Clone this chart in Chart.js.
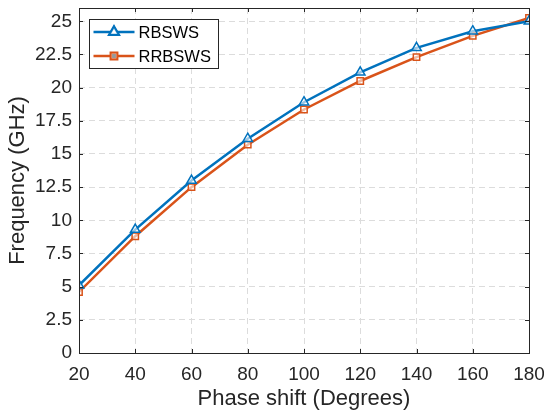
<!DOCTYPE html>
<html>
<head>
<meta charset="utf-8">
<script src="https://cdn.jsdelivr.net/npm/chart.js@4.4.1/dist/chart.umd.min.js"></script>
<style>
  html, body { margin: 0; padding: 0; background: #fff; }
  #wrap { width: 544px; height: 412px; }
</style>
</head>
<body>
<div id="wrap"><canvas id="myChart" width="544" height="412"></canvas></div>
<script>
/* data */
var phaseShift = [20, 40, 60, 80, 100, 120, 140, 160, 180];
var rbsws = [5.1, 9.3, 13.0, 16.15, 18.9, 21.15, 23.0, 24.25, 25.0];
var rrbsws = [4.6, 8.8, 12.5, 15.7, 18.35, 20.5, 22.3, 23.9, 25.25];
var yTicks = [0, 2.5, 5, 7.5, 10, 12.5, 15, 17.5, 20, 22.5, 25];
var xTicks = [20, 40, 60, 80, 100, 120, 140, 160, 180];

const blue = "#0072BD";
const orange = "#D95319";
const axisColor = "#262626";
const fontFam = "'Liberation Sans', Arial, sans-serif";

function toPoints(xs, ys) {
  var pts = [];
  for (var i = 0; i < xs.length; i++) {
    pts.push({ x: xs[i], y: ys[i] });
  }
  return pts;
}

// box around the axes with inward ticks, plus the boxed legend
const boxPlugin = {
  id: "boxPlugin",
  afterDatasetsDraw: function (chart) {
    var ctx = chart.ctx;
    var a = chart.chartArea;
    var xs = chart.scales.x, ys = chart.scales.y;
    ctx.save();
    ctx.strokeStyle = axisColor;
    ctx.lineWidth = 1;
    ctx.strokeRect(Math.round(a.left) + 0.5, Math.round(a.top) + 0.5,
      Math.round(a.right - a.left), Math.round(a.bottom - a.top));
    ctx.beginPath();
    xTicks.forEach(function (v) {
      var px = Math.round(xs.getPixelForValue(v)) + 0.5;
      ctx.moveTo(px, a.bottom); ctx.lineTo(px, a.bottom - 4);
      ctx.moveTo(px, a.top); ctx.lineTo(px, a.top + 4);
    });
    yTicks.forEach(function (v) {
      var py = Math.round(ys.getPixelForValue(v)) + 0.5;
      ctx.moveTo(a.left, py); ctx.lineTo(a.left + 4, py);
      ctx.moveTo(a.right, py); ctx.lineTo(a.right - 4, py);
    });
    ctx.stroke();

    // legend
    var lx = 89.5, ly = 19.5, lw = 129, lh = 49;
    ctx.fillStyle = "#fff";
    ctx.fillRect(lx, ly, lw, lh);
    ctx.strokeStyle = axisColor;
    ctx.strokeRect(lx, ly, lw, lh);
    ctx.font = "16.5px " + fontFam;
    ctx.textBaseline = "middle";
    chart.data.datasets.forEach(function (ds, i) {
      var cy = ly + 12.5 + i * 24;
      ctx.strokeStyle = ds.borderColor;
      ctx.lineWidth = 2.5;
      ctx.beginPath();
      ctx.moveTo(lx + 4, cy); ctx.lineTo(lx + 45, cy);
      ctx.stroke();
      Chart.helpers.drawPoint(ctx, {
        pointStyle: ds.pointStyle, radius: ds.pointRadius, borderWidth: 1.5
      }, lx + 24.5, cy);
      ctx.lineWidth = 1.5;
      ctx.fillStyle = "rgba(255,255,255,0.6)";
      ctx.fill();
      ctx.stroke();
      ctx.fillStyle = "#000";
      ctx.fillText(ds.label, lx + 49, cy + 1);
    });
    ctx.restore();
  }
};

new Chart("myChart", {
  type: "line",
  data: {
    datasets: [{
      label: "RBSWS",
      data: toPoints(phaseShift, rbsws),
      borderColor: blue,
      backgroundColor: blue,
      borderWidth: 2.5,
      pointStyle: "triangle",
      pointRadius: 5.5,
      pointBorderWidth: 1.5,
      pointBackgroundColor: "rgba(255,255,255,0.6)",
      pointBorderColor: blue
    }, {
      label: "RRBSWS",
      data: toPoints(phaseShift, rrbsws),
      borderColor: orange,
      backgroundColor: orange,
      borderWidth: 2.5,
      pointStyle: "rect",
      pointRadius: 4.5,
      pointBorderWidth: 1.5,
      pointBackgroundColor: "rgba(255,255,255,0.6)",
      pointBorderColor: orange
    }]
  },
  plugins: [boxPlugin],
  options: {
    responsive: false,
    animation: false,
    layout: { padding: { top: 8, right: 15, left: 0, bottom: 0 } },
    plugins: {
      legend: { display: false },
      tooltip: { enabled: false }
    },
    scales: {
      x: {
        type: "linear",
        min: 20,
        max: 180,
        afterBuildTicks: function (axis) {
          axis.ticks = xTicks.map(function (v) { return { value: v }; });
        },
        afterFit: function (axis) {
          axis.height = 59;
          axis.paddingLeft = 0;
          axis.paddingRight = 0;
        },
        ticks: {
          color: axisColor,
          font: { family: fontFam, size: 19 },
          padding: 10,
          maxRotation: 0
        },
        grid: {
          color: "#dcdcdc",
          drawTicks: false,
          lineWidth: 1
        },
        border: { display: false, dash: [6, 4] },
        title: {
          display: true,
          text: "Phase shift (Degrees)",
          color: axisColor,
          font: { family: fontFam, size: 22 },
          padding: { top: 0, bottom: 0 }
        }
      },
      y: {
        type: "linear",
        min: 0,
        max: 26,
        afterBuildTicks: function (axis) {
          axis.ticks = yTicks.map(function (v) { return { value: v }; });
        },
        afterFit: function (axis) {
          axis.width = 79;
          axis.paddingTop = 0;
          axis.paddingBottom = 0;
        },
        ticks: {
          color: axisColor,
          font: { family: fontFam, size: 19 },
          padding: 7
        },
        grid: {
          color: "#dcdcdc",
          drawTicks: false,
          lineWidth: 1
        },
        border: { display: false, dash: [6, 4] },
        title: {
          display: true,
          text: "Frequency (GHz)",
          color: axisColor,
          font: { family: fontFam, size: 22 },
          padding: { top: 5, bottom: 0 }
        }
      }
    }
  }
});
</script>
</body>
</html>
